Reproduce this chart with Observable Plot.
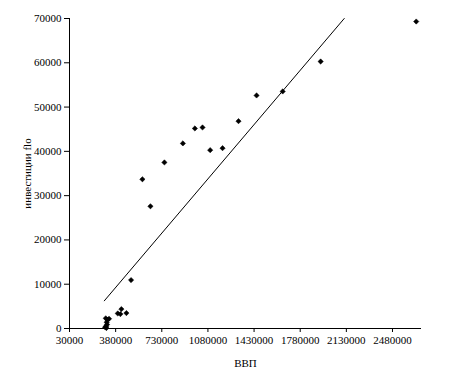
<!DOCTYPE html>
<html>
<head>
<meta charset="utf-8">
<script src="https://cdn.jsdelivr.net/npm/d3@7"></script>
<script src="https://cdn.jsdelivr.net/npm/@observablehq/plot@0.6"></script>
<style>
  html, body { margin: 0; padding: 0; background: #fff; }
  #chart { width: 452px; height: 382px; }
</style>
</head>
<body>
<div id="chart"></div>
<script>
// ВВП (x) and инвестиции (y) values
const gdp = [300000, 305000, 308000, 310000, 312000, 315000, 318000, 330000,
             396000, 416000, 423500, 461500, 497000,
             583000, 644000, 750000, 890000, 981000, 1039000, 1097000, 1191000,
             1312000, 1449000, 1647000, 1935000, 2660000];
const invest = [300, 2300, 500, 100, 1400, 900, 2000, 2200,
                3400, 3250, 4380, 3480, 10930,
                33700, 27600, 37500, 41800, 45170, 45400, 40270, 40720,
                46820, 52620, 53520, 60290, 69320];
// trend line endpoints (clipped at the top of the plot)
const trendX = [294000, 2114000];
const trendY = [6250, 70000];
const xTicks = [30000, 380000, 730000, 1080000, 1430000, 1780000, 2130000, 2480000];
const yTicks = [0, 10000, 20000, 30000, 40000, 50000, 60000, 70000];

const points = gdp.map((x, i) => ({x, y: invest[i]}));
const trend = trendX.map((x, i) => ({x, y: trendY[i]}));

const chart = Plot.plot({
  width: 452,
  height: 382,
  marginLeft: 69,
  marginRight: 31,
  marginTop: 18,
  marginBottom: 54,
  style: {fontFamily: "'Liberation Serif', 'Times New Roman', serif", fontSize: "11px", color: "#000", background: "#fff"},
  x: {domain: [30000, 2700000]},
  y: {domain: [0, 70000]},
  marks: [
    Plot.axisX({ticks: xTicks, tickFormat: d => String(d), tickSize: 4, tickPadding: 4, fontSize: 11,
      label: "ВВП", labelAnchor: "center", labelOffset: 38, labelArrow: "none"}),
    Plot.axisY({ticks: yTicks, tickFormat: d => String(d), tickSize: 5, tickPadding: 3, fontSize: 11,
      label: "инвестиции flo", labelAnchor: "center", labelOffset: 46, labelArrow: "none"}),
    Plot.ruleX([30000], {stroke: "#000", strokeWidth: 1}),
    Plot.ruleY([0], {stroke: "#000", strokeWidth: 1}),
    Plot.line(trend, {x: "x", y: "y", stroke: "#000", strokeWidth: 1}),
    Plot.dot(points, {x: "x", y: "y", symbol: "square", rotate: 45, r: 2.1, fill: "#000", stroke: "#000", strokeWidth: 0.5})
  ]
});
document.getElementById("chart").appendChild(chart);
</script>
</body>
</html>
